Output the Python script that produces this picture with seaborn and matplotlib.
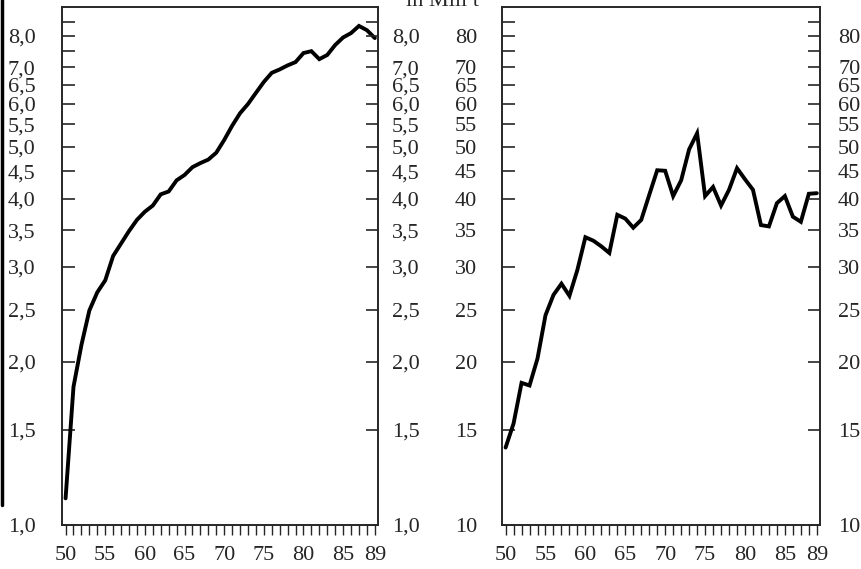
import pandas as pd
import matplotlib.pyplot as plt
import seaborn as sns
from matplotlib.ticker import NullLocator
from matplotlib.lines import Line2D

# Years (two-digit, as on the axis)
years = list(range(50, 90))

# Left panel values (log scale, 1,0 .. 8,5)
left_values = [1.12, 1.80, 2.15, 2.49, 2.69, 2.83, 3.14, 3.31, 3.49, 3.66,
               3.79, 3.89, 4.08, 4.13, 4.33, 4.43, 4.58, 4.66, 4.73, 4.87,
               5.14, 5.46, 5.76, 5.99, 6.28, 6.58, 6.84, 6.94, 7.06, 7.16,
               7.44, 7.50, 7.25, 7.38, 7.70, 7.95, 8.10, 8.35, 8.20, 7.93]

# Right panel values (log scale, 10 .. 85)
right_values = [13.9, 15.4, 18.3, 18.1, 20.3, 24.4, 26.6, 27.9, 26.5, 29.6,
                34.0, 33.5, 32.7, 31.8, 37.4, 36.8, 35.4, 36.6, 40.7, 45.2,
                45.1, 40.5, 43.3, 49.4, 52.9, 40.5, 42.1, 38.9, 41.6, 45.6,
                43.5, 41.6, 35.8, 35.6, 39.3, 40.5, 37.1, 36.3, 40.9, 41.0]

left_ticks = [1.0, 1.5, 2.0, 2.5, 3.0, 3.5, 4.0, 4.5, 5.0, 5.5, 6.0, 6.5, 7.0, 7.5, 8.0, 8.5]
left_labels = ["1,0", "1,5", "2,0", "2,5", "3,0", "3,5", "4,0", "4,5", "5,0",
               "5,5", "6,0", "6,5", "7,0", "", "8,0", ""]
right_ticks = [10, 15, 20, 25, 30, 35, 40, 45, 50, 55, 60, 65, 70, 75, 80, 85]
right_labels = ["10", "15", "20", "25", "30", "35", "40", "45", "50",
                "55", "60", "65", "70", "", "80", ""]
x_label_ticks = [50, 55, 60, 65, 70, 75, 80, 85, 89]

df = pd.DataFrame({"year": years, "left": left_values, "right": right_values})

sns.set_style("ticks")
plt.rcParams['font.family'] = ['Liberation Serif', 'DejaVu Serif']
plt.rcParams['font.size'] = 16

fig = plt.figure(figsize=(8.61, 5.69), dpi=100)
ax1 = fig.add_axes([62 / 861, 44 / 569, 316 / 861, 518 / 569])
ax2 = fig.add_axes([502 / 861, 44 / 569, 318 / 861, 518 / 569])


def style_panel(ax, col, ylim, ticks, labels, pad_left, pad_right):
    sns.lineplot(data=df, x="year", y=col, ax=ax, color="black", linewidth=2.8,
                 solid_joinstyle="miter")
    ax.set_yscale("log")
    ax.set_ylim(*ylim)
    ax.set_xlim(49.55, 89.4)
    ax.set_xlabel("")
    ax.set_ylabel("")
    ax.set_yticks(ticks)
    ax.set_yticklabels(labels)
    ax.yaxis.set_minor_locator(NullLocator())
    ax.set_xticks(years)
    ax.set_xticklabels([str(y) if y in x_label_ticks else "" for y in years])
    ax.tick_params(axis="y", direction="in", length=9, width=1.2,
                   left=True, right=False, pad=pad_left, labelsize=16)
    ax.tick_params(axis="x", direction="out", length=7, width=1.0,
                   pad=8, labelsize=16)
    for s in ax.spines.values():
        s.set_visible(True)
        s.set_linewidth(1.2)

    tw = ax.twinx()
    tw.set_yscale("log")
    tw.set_ylim(*ylim)
    tw.set_yticks(ticks)
    tw.set_yticklabels(labels)
    tw.yaxis.set_minor_locator(NullLocator())
    tw.tick_params(axis="y", direction="in", length=9, width=1.2,
                   pad=pad_right, labelsize=16)
    for s in tw.spines.values():
        s.set_linewidth(1.2)


style_panel(ax1, "left", (1.0, 9.05), left_ticks, left_labels, 19, 10)
style_panel(ax2, "right", (10, 90.5), right_ticks, right_labels, 18, 13)

fig.text(442 / 861, 1 - 6 / 569, "in Mill t", ha="center", va="baseline", fontsize=16)

# dark scan edge on the left border
fig.add_artist(Line2D([2 / 861, 2 / 861], [1.0, 1 - 505 / 569],
                      transform=fig.transFigure, color="black", linewidth=2.5))

fig.savefig("out.png", dpi=100)
